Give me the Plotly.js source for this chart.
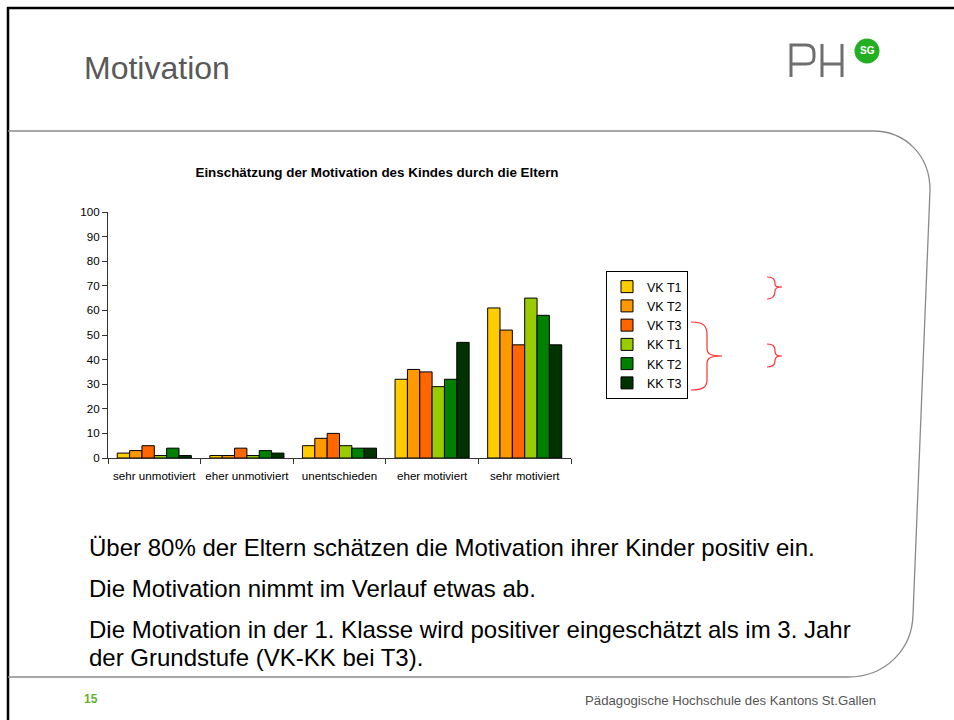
<!DOCTYPE html>
<html>
<head>
<meta charset="utf-8">
<script src="https://cdn.plot.ly/plotly-3.0.1.min.js"></script>
<style>html,body{margin:0;padding:0;background:#fff;}#chart{width:954px;height:720px;}</style>
</head>
<body>
<div id="chart"></div>
<script>
// ---- data ----
const categories = ["sehr unmotiviert", "eher unmotiviert", "unentschieden", "eher motiviert", "sehr motiviert"];
const seriesNames = ["VK T1", "VK T2", "VK T3", "KK T1", "KK T2", "KK T3"];
const vkT1 = [2, 1, 5, 32, 61];
const vkT2 = [3, 1, 8, 36, 52];
const vkT3 = [5, 4, 10, 35, 46];
const kkT1 = [1, 1, 5, 29, 65];
const kkT2 = [4, 3, 4, 32, 58];
const kkT3 = [1, 2, 4, 47, 46];
const yTicks = [0, 10, 20, 30, 40, 50, 60, 70, 80, 90, 100];
const chartTitle = "Einschätzung der Motivation des Kindes durch die Eltern";
const slideTitle = "Motivation";
const bodyLines = [
  "Über 80% der Eltern schätzen die Motivation ihrer Kinder positiv ein.",
  "Die Motivation nimmt im Verlauf etwas ab.",
  "Die Motivation in der 1. Klasse wird positiver eingeschätzt als im 3. Jahr",
  "der Grundstufe (VK-KK bei T3)."
];
const pageNumber = "15";
const footerText = "Pädagogische Hochschule des Kantons St.Gallen";

// ---- styles ----
const W = 954, H = 720;
const colors = ["#FFCC00", "#FF9900", "#FF6600", "#99CC00", "#008000", "#003300"];
const FONT = "Liberation Sans, Arial, sans-serif";
const px = x => x / W;
const py = y => 1 - y / H;
const P = s => s.replace(/(-?\d+\.?\d*),(-?\d+\.?\d*)/g, (m, a, b) => px(+a) + "," + py(+b));

const allSeries = [vkT1, vkT2, vkT3, kkT1, kkT2, kkT3];
const traces = allSeries.map((vals, i) => ({
  type: "bar",
  name: seriesNames[i],
  x: categories,
  y: vals,
  marker: {color: colors[i], line: {color: "#000", width: 1}},
  hoverinfo: "x+y+name"
}));

const shapes = [
  // slide frame
  {type: "line", xref: "paper", yref: "paper", x0: px(7), y0: py(8), x1: px(960), y1: py(8), line: {color: "#000", width: 2.5}},
  {type: "line", xref: "paper", yref: "paper", x0: px(8), y0: py(7), x1: px(8), y1: py(730), line: {color: "#000", width: 2.5}},
  // content outline
  {type: "path", xref: "paper", yref: "paper",
   path: P("M8,131 L873,131 C905,131 930,155 930,190 L913,615 C912,650 885,677 848,677 L8,677"),
   line: {color: "#8a8a8a", width: 1.3}},
  // brackets
  {type: "path", xref: "paper", yref: "paper",
   path: P("M767,277 C774,277 775,280 775,284 C775,287 777,287 782,287 C777,287 775,288 775,291 C775,296 773,299 767,299"),
   line: {color: "#ff3333", width: 1.2}},
  {type: "path", xref: "paper", yref: "paper",
   path: P("M691,322 C704,322 707,326 707,335 L707,348 C707,354 710,356 722,356 C710,356 707,358 707,364 L707,380 C707,387 703,390 691,390"),
   line: {color: "#ff3333", width: 1.2}},
  {type: "path", xref: "paper", yref: "paper",
   path: P("M767,344 C774,344 775,347 775,351 C775,355 777,356 782,356 C777,356 775,357 775,361 C775,365 773,367 767,367"),
   line: {color: "#ff3333", width: 1.2}},
  // logo PH
  {type: "path", xref: "paper", yref: "paper",
   path: P("M791,77 L791,45 L806,45 C812,45 814,48 814,53 L814,57 C814,62 812,64 806,64 L791,64"),
   line: {color: "#6e6e6e", width: 3}},
  {type: "path", xref: "paper", yref: "paper",
   path: P("M822,44 L822,77 M822,64 L842,64 M842,44 L842,77"),
   line: {color: "#6e6e6e", width: 3}},
  {type: "circle", xref: "paper", yref: "paper", x0: px(854.5), x1: px(879.5), y0: py(38.5), y1: py(63.5),
   fillcolor: "#22b022", line: {width: 0}}
];

const annotations = [
  {text: slideTitle, xref: "paper", yref: "paper", x: px(82), y: py(68), xanchor: "left", yanchor: "middle",
   showarrow: false, font: {family: FONT, size: 32, color: "#595959"}},
  {text: "<b>SG</b>", xref: "paper", yref: "paper", x: px(867), y: py(51), xanchor: "center", yanchor: "middle",
   showarrow: false, font: {family: FONT, size: 10, color: "#fff"}},
  {text: "<b>" + pageNumber + "</b>", xref: "paper", yref: "paper", x: px(82), y: py(699), xanchor: "left", yanchor: "middle",
   showarrow: false, font: {family: FONT, size: 12, color: "#66b032"}},
  {text: footerText, xref: "paper", yref: "paper", x: px(878), y: py(700), xanchor: "right", yanchor: "middle",
   showarrow: false, font: {family: FONT, size: 13.2, color: "#555"}}
];
const bodyY = [547, 588, 629, 657];
bodyLines.forEach((t, i) => annotations.push({
  text: t, xref: "paper", yref: "paper", x: px(87), y: py(bodyY[i]), xanchor: "left", yanchor: "middle",
  showarrow: false, font: {family: FONT, size: 24, color: "#000"}
}));

const layout = {
  width: W, height: H,
  margin: {l: 0, r: 0, t: 0, b: 0},
  paper_bgcolor: "#fff", plot_bgcolor: "rgba(0,0,0,0)",
  font: {family: FONT, color: "#000"},
  title: {text: "<b>" + chartTitle + "</b>", x: px(377), y: py(172), xanchor: "center", yanchor: "middle",
          xref: "paper", yref: "paper", font: {family: FONT, size: 13.4, color: "#000"}},
  barmode: "group", bargap: 0.2, bargroupgap: 0,
  xaxis: {domain: [px(108), px(571)], showline: true, linecolor: "#333", linewidth: 1,
          ticks: "outside", tickson: "boundaries", ticklen: 5, tickcolor: "#333", ticklabelstandoff: 7,
          tickangle: 0, automargin: false,
          tickfont: {family: FONT, size: 11.6, color: "#000"}, showgrid: false, fixedrange: true},
  yaxis: {domain: [py(458), py(212)], range: [0, 100], tickvals: yTicks, showline: true, linecolor: "#333", linewidth: 1,
          ticks: "outside", ticklen: 5, tickcolor: "#333", zeroline: false,
          tickfont: {family: FONT, size: 11.6, color: "#000"}, showgrid: false, fixedrange: true},
  showlegend: true,
  legend: {x: px(606), y: py(271), xanchor: "left", yanchor: "top", bgcolor: "#fff",
           bordercolor: "#000", borderwidth: 1, itemwidth: 30, tracegroupgap: 0,
           font: {family: FONT, size: 12.5, color: "#000"}},
  shapes: shapes,
  annotations: annotations
};

Plotly.newPlot("chart", traces, layout, {displayModeBar: false, staticPlot: true});
</script>
</body>
</html>
